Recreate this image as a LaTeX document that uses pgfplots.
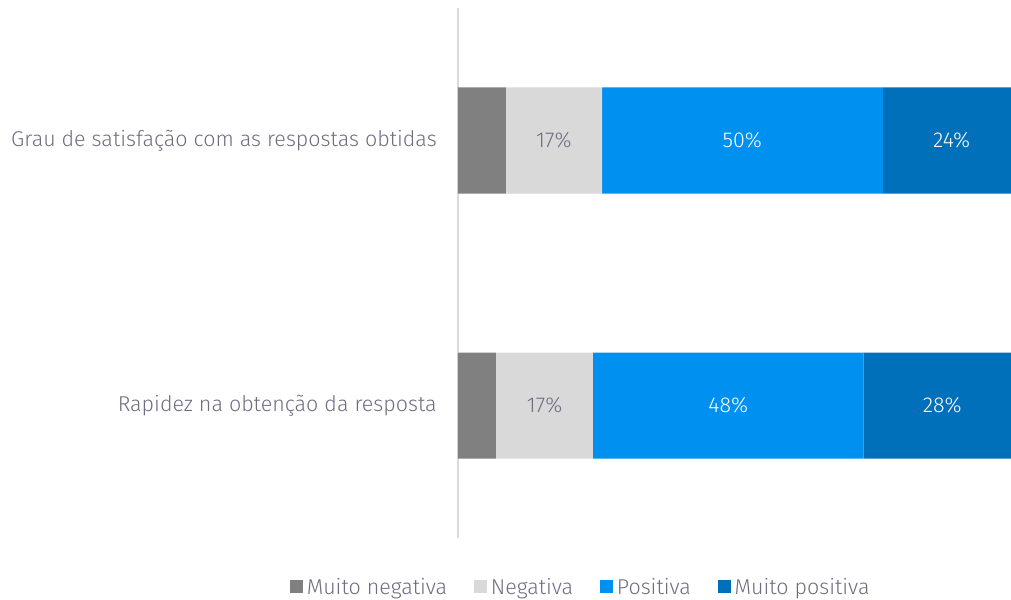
\documentclass[border=0pt]{standalone}
\usepackage{pgfplots}
\pgfplotsset{compat=1.18}
\usepackage{fontspec}
\setmainfont{Fira Sans}[UprightFont=* Light]
\definecolor{cMN}{HTML}{808080}
\definecolor{cN}{HTML}{D9D9D9}
\definecolor{cP}{HTML}{0091F0}
\definecolor{cMP}{HTML}{0070BB}
\definecolor{txt}{HTML}{6E6E82}
\definecolor{axl}{HTML}{DADAE2}
\newcommand{\fs}{\fontsize{16.1}{19}\selectfont}
\pgfplotsset{
  common/.style={
    width=422.25pt, height=397.5pt, scale only axis,
    xmin=0, xmax=100, ymin=-0.5, ymax=1.5,
    axis x line=none,
    font=\fs,
  },
  sq/.style={legend image code/.code={\fill[##1] (0pt,-4.6pt) rectangle (9.75pt,5.15pt);}},
}
\begin{document}
\begin{tikzpicture}
\begin{axis}[common, name=ax,
  xbar stacked, bar width=79.5pt,
  axis y line*=left,
  y axis line style={draw=axl, line width=1.1pt},
  ytick={0,1}, major tick length=0pt,
  yticklabels={Rapidez na obtenção da resposta, Grau de satisfação com as respostas obtidas},
  yticklabel style={inner sep=0pt, xshift=-15.75pt, text=txt},
  legend style={at={(0.2185,-0.0925)}, anchor=center, draw=none, fill=none,
    legend columns=4, text=txt, font=\fs,
    /tikz/every even column/.append style={column sep=18pt},
    /tikz/every odd column/.append style={column sep=1pt}},
]
\addplot[fill=cMN, draw=none, sq] coordinates {(6.75,0) (8.5,1)};
\addplot[fill=cN, draw=none, sq] coordinates {(17.2,0) (17.1,1)};
\addplot[fill=cP, draw=none, sq] coordinates {(48.1,0) (49.9,1)};
\addplot[fill=cMP, draw=none, sq] coordinates {(27.95,0) (24.5,1)};
\legend{Muito negativa, Negativa, Positiva, Muito positiva}
\end{axis}
\begin{axis}[common, axis y line=none, ytick=\empty]
\addplot[draw=none, mark=none, nodes near coords, point meta=explicit symbolic,
  every node near coord/.append style={anchor=center, text=txt, font=\fs}]
  coordinates {(15.4,0)[17\%] (17.05,1)[17\%]};
\addplot[draw=none, mark=none, nodes near coords, point meta=explicit symbolic,
  every node near coord/.append style={anchor=center, text=white, font=\fs}]
  coordinates {(48.0,0)[48\%] (86.0,0)[28\%] (50.5,1)[50\%] (87.7,1)[24\%]};
\end{axis}
\pgfresetboundingbox
\path[use as bounding box] ([xshift=-343.5pt, yshift=-46.5pt]ax.south west) rectangle ([xshift=-7.5pt, yshift=6pt]ax.north east);
\end{tikzpicture}
\end{document}
